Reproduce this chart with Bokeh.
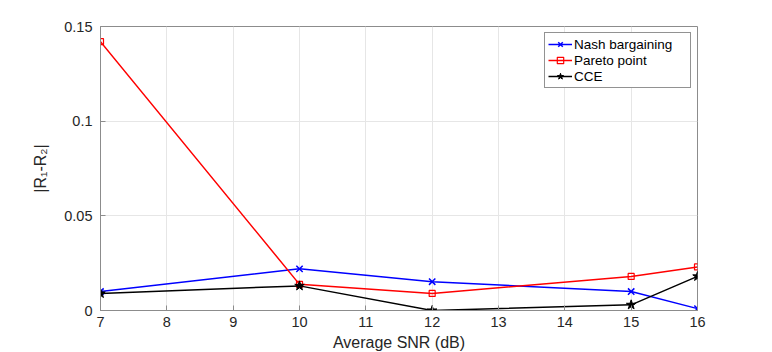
from bokeh.plotting import figure
from bokeh.models import Range1d, FixedTicker, CustomJSTickFormatter, Legend, LegendItem
from bokeh.embed import file_html
from bokeh.resources import INLINE

snr = [7, 10, 12, 15, 16]
nash = [0.010, 0.022, 0.0152, 0.010, 0.001]
pareto = [0.142, 0.0138, 0.009, 0.018, 0.023]
cce = [0.009, 0.013, 0.0, 0.003, 0.018]
x_ticks = [7, 8, 9, 10, 11, 12, 13, 14, 15, 16]
y_ticks = [0, 0.05, 0.1, 0.15]

FONT = "Liberation Sans"
AX = "#262626"

p = figure(frame_width=597, frame_height=284, output_backend="svg", toolbar_location=None,
           x_range=Range1d(7, 16), y_range=Range1d(0, 0.15),
           min_border_left=100, min_border_right=67, min_border_top=26, min_border_bottom=40)
p.background_fill_color = "white"
p.border_fill_color = "white"
p.outline_line_color = "#8c8c8c"
p.outline_line_width = 1

for ax in (p.xaxis[0], p.yaxis[0]):
    ax.axis_line_color = "#8c8c8c"
    ax.major_tick_line_color = "#8c8c8c"
    ax.major_tick_in = 5
    ax.major_tick_out = 0
    ax.minor_tick_line_color = None
    ax.major_label_text_font = FONT
    ax.major_label_text_font_size = "14.5px"
    ax.major_label_text_color = AX
    ax.axis_label_text_font = FONT
    ax.axis_label_text_font_size = "16px"
    ax.axis_label_text_font_style = "normal"
    ax.axis_label_text_color = AX

p.xaxis.ticker = FixedTicker(ticks=x_ticks)
p.yaxis.ticker = FixedTicker(ticks=y_ticks)
p.yaxis.formatter = CustomJSTickFormatter(code="return String(Number(tick.toFixed(3)));")
p.xaxis.axis_label = "Average SNR (dB)"
p.yaxis.axis_label = "|R\u2081-R\u2082|"
p.xaxis.major_label_standoff = 6
p.xaxis.axis_label_standoff = 4
p.yaxis.major_label_standoff = 8
p.yaxis.axis_label_standoff = 12

p.xgrid.ticker = FixedTicker(ticks=x_ticks)
p.ygrid.ticker = FixedTicker(ticks=y_ticks)
p.grid.grid_line_color = "#e6e6e6"
p.grid.grid_line_width = 1

r1 = p.line(snr, nash, line_color="#0000ff", line_width=1.5)
m1 = p.scatter(snr, nash, marker="x", size=9, line_color="#0000ff", line_width=1.5)
r2 = p.line(snr, pareto, line_color="#ff0000", line_width=1.5)
m2 = p.scatter(snr, pareto, marker="square", size=6, line_color="#ff0000", fill_color=None, line_width=1.2)
r3 = p.line(snr, cce, line_color="black", line_width=1.5)
m3 = p.scatter(snr, cce, marker="star", size=10, line_color="black", fill_color="black")

legend = Legend(items=[
    LegendItem(label="Nash bargaining", renderers=[r1, m1]),
    LegendItem(label="Pareto point", renderers=[r2, m2]),
    LegendItem(label="CCE", renderers=[r3, m3]),
], location="top_right")
legend.margin = 6
legend.padding = 3
legend.spacing = 0
legend.glyph_width = 24
legend.glyph_height = 16
legend.label_height = 16
legend.label_width = 113
legend.label_standoff = 2
legend.label_text_font = FONT
legend.label_text_font_size = "13.5px"
legend.label_text_color = "black"
legend.border_line_color = "#262626"
legend.border_line_width = 1
legend.background_fill_alpha = 1
p.add_layout(legend, "center")

open("out.html", "w").write(file_html(p, INLINE))
